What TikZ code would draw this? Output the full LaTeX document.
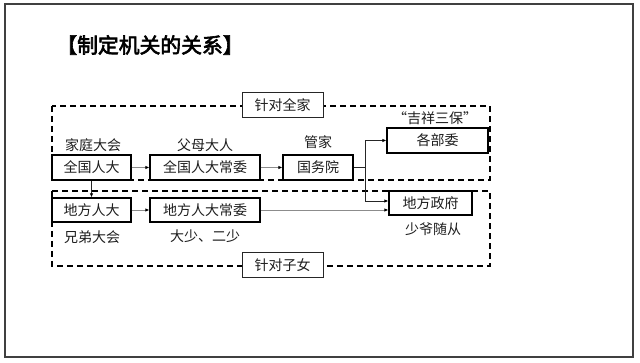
\documentclass[tikz,border=0pt]{standalone}
\usepackage{fontspec}
\setmainfont{Noto Sans CJK SC}
\newfontfamily\titlefont[FakeBold=3]{Noto Sans CJK SC}
\usetikzlibrary{arrows.meta}
\definecolor{txt}{HTML}{1E1E1E}
\definecolor{arrgray}{HTML}{8C8C8C}
\tikzset{
  box/.style={draw=black, line width=1.3pt, fill=white, inner sep=0pt, minimum height=25pt, text=txt, font=\fontsize{14}{15}\selectfont},
  tagbox/.style={draw=black!85, line width=0.9pt, fill=white, inner sep=0pt, minimum width=81pt, minimum height=25pt, text=txt, font=\fontsize{14}{15}\selectfont},
  lbl/.style={inner sep=0pt, text=txt, font=\fontsize{14}{15}\selectfont},
  dashbox/.style={draw=black, line width=1.4pt, dash pattern=on 6pt off 4pt},
  grayarr/.style={draw=arrgray, line width=0.9pt, -{Latex[length=4pt,width=3.5pt,color=black]}},
  blackarr/.style={draw=black!85, line width=0.9pt, -{Latex[length=4pt,width=3.5pt,color=black]}},
  blackline/.style={draw=black!85, line width=1.2pt}
}
\begin{document}
\begin{tikzpicture}[x=1pt,y=-1pt]
\useasboundingbox (0,0) rectangle (640,363);
\fill[white] (0,0) rectangle (640,363);
\draw[line width=1.8pt, color=black!75] (5,4) rectangle (633,357);

\node[inner sep=0pt, text=black, font=\titlefont\fontsize{20.8}{22}\selectfont] (title) at (150,45) {【制定机关的关系】};

% dashed groups
\draw[dashbox] (52,106) rectangle (490,180);
\draw[dashbox] (52,191) rectangle (490,266);
\node[tagbox] (tagall) at (282.5,105) {针对全家};
\node[tagbox] (tagkid) at (282.5,265) {针对子女};

% main boxes
\node[box, minimum width=79pt] (qgrd) at (91.5,167.5) {全国人大};
\node[box, minimum width=110pt] (qgcw) at (205,167.5) {全国人大常委};
\node[box, minimum width=70pt] (gwy) at (318,167.5) {国务院};
\node[box, minimum width=101pt] (gbw) at (437.5,140.5) {各部委};
\node[box, minimum width=79pt, minimum height=24pt] (dfrd) at (91.5,210) {地方人大};
\node[box, minimum width=110pt, minimum height=24pt] (dfcw) at (205,210) {地方人大常委};
\node[box, minimum width=83pt, minimum height=24pt] (dfzf) at (430.5,203) {地方政府};

% labels
\node[lbl] (l1) at (93,145) {家庭大会};
\node[lbl] (l2) at (205,145) {父母大人};
\node[lbl] (l3) at (318,142) {管家};
\node[lbl] (l4) at (435,118) {“吉祥三保”};
\node[lbl] (l5) at (92,237) {兄弟大会};
\node[lbl] (l6) at (205,236) {大少、二少};
\node[lbl] (l7) at (433,229) {少爷随从};

% connectors
\draw[grayarr] (qgrd.east) -- (qgcw.west);
\draw[grayarr] (qgcw.east) -- (gwy.west);
\draw[grayarr] (dfrd.east) -- (dfcw.west);
\draw[grayarr] (dfcw.east) -- (dfcw.east -| dfzf.west);
\draw[blackarr] (qgrd.south) -- (dfrd.north);
\coordinate (br) at (365,167.5);
\draw[blackline] (gwy.east) -- (br);
\draw[blackarr] (br) |- (gbw.west);
\draw[blackarr] (br) |- ([yshift=2pt]dfzf.west);
\end{tikzpicture}
\end{document}
